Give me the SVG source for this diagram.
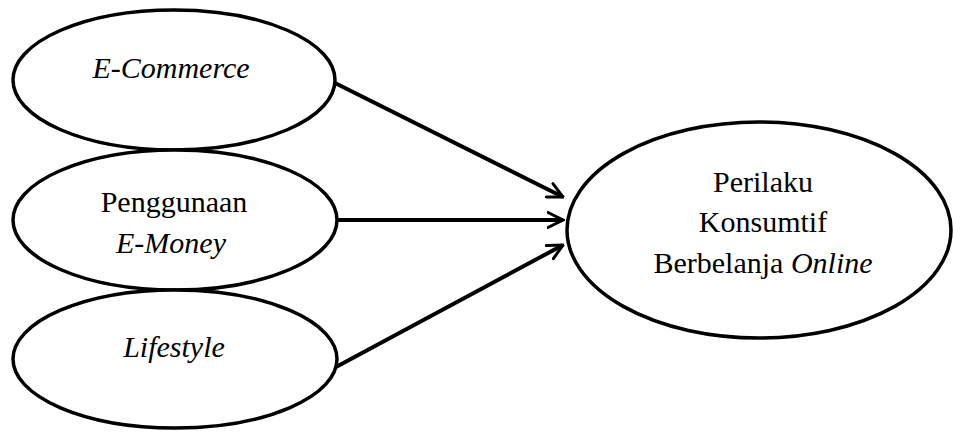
<svg xmlns="http://www.w3.org/2000/svg" width="953" height="432" viewBox="0 0 953 432">
<style>
.node{fill:#fff;stroke:#000;stroke-width:3.5}
.t{font-family:"Liberation Serif","Times New Roman",serif;font-size:30px;fill:#000;text-anchor:middle}
.i{font-style:italic}
.c{stroke:#000;stroke-width:4;fill:none}
</style>
<defs>
<marker id="ah" viewBox="0 0 12 12" refX="11" refY="6" markerWidth="4.5" markerHeight="4.5" markerUnits="strokeWidth" orient="auto">
<path d="M1,1 L11,6 L1,11" fill="none" stroke="#000" stroke-width="2" stroke-linecap="round" stroke-linejoin="miter"/>
</marker>
</defs>
<g id="n1"><ellipse class="node" cx="174" cy="80" rx="161" ry="70"/><text class="t i" x="171" y="78">E-Commerce</text></g>
<g id="n2"><ellipse class="node" cx="175" cy="220" rx="162" ry="70"/><text class="t" x="174" y="212">Penggunaan</text><text class="t i" x="171" y="253">E-Money</text></g>
<g id="n3"><ellipse class="node" cx="175" cy="359" rx="162" ry="69"/><text class="t i" x="174" y="357">Lifestyle</text></g>
<g id="n4"><ellipse class="node" cx="759" cy="230" rx="192" ry="108"/><text class="t" x="763" y="192">Perilaku</text><text class="t" x="763" y="232">Konsumtif</text><text class="t" x="763" y="273">Berbelanja <tspan class="i">Online</tspan></text></g>
<g id="connectors">
<line class="c" x1="335" y1="83" x2="563" y2="197" marker-end="url(#ah)"/>
<line class="c" x1="337" y1="220" x2="563" y2="220" marker-end="url(#ah)"/>
<line class="c" x1="336" y1="367" x2="563" y2="245" marker-end="url(#ah)"/>
</g>
</svg>
